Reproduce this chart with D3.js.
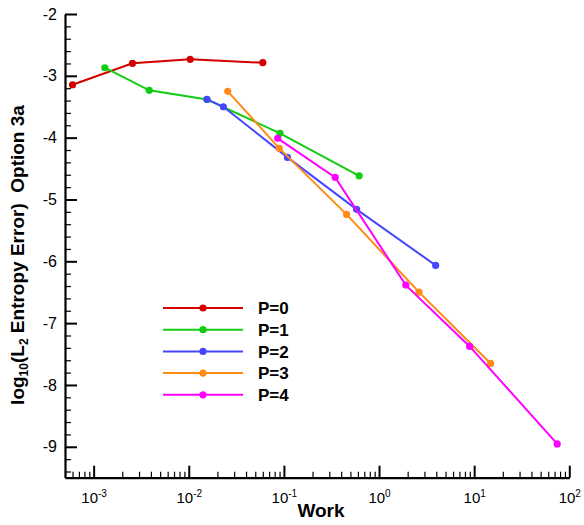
<!DOCTYPE html>
<html>
<head>
<meta charset="utf-8">
<title>Entropy error vs work</title>
<script src="https://d3js.org/d3.v7.min.js"></script>
<style>
  body { margin: 0; background: #fff; }
  text { font-family: "Liberation Sans", Arial, Helvetica, sans-serif; }
</style>
</head>
<body>
<div id="chart"></div>
<script>
// values: x = work, y = log10(L2 entropy error)
var names = ["P=0", "P=1", "P=2", "P=3", "P=4"];
var colors = ["#d40000", "#11cc11", "#4646ff", "#ff8a14", "#ff00ff"];

var work0 = [6.0e-4, 2.56e-3, 1.035e-2, 0.060];
var err0  = [-3.144, -2.798, -2.733, -2.788];

var work1 = [1.31e-3, 3.84e-3, 0.0156, 0.091, 0.618];
var err1  = [-2.869, -3.235, -3.383, -3.930, -4.617];

var work2 = [0.0155, 0.0231, 0.109, 0.581, 3.94];
var err2  = [-3.380, -3.500, -4.319, -5.160, -6.066];

var work3 = [0.0257, 0.0895, 0.456, 2.63, 14.9];
var err3  = [-3.251, -4.173, -5.241, -6.498, -7.652];

var work4 = [0.0861, 0.346, 1.91, 8.97, 74.6];
var err4  = [-4.011, -4.642, -6.385, -7.377, -8.953];

var xMajor = [1e-3, 1e-2, 1e-1, 1, 10, 100];
var xExp = ["-3", "-2", "-1", "0", "1", "2"];
var yMajor = [-9, -8, -7, -6, -5, -4, -3, -2];

var works = [work0, work1, work2, work3, work4];
var errs = [err0, err1, err2, err3, err4];

var W = 584, H = 525;
var svg = d3.select("#chart").append("svg")
    .attr("width", W).attr("height", H);

var x = d3.scaleLog().domain([5e-4, 100]).range([65, 569.3]);
var y = d3.scaleLinear().domain([-9.5, -2]).range([477.7, 14]);

// minor ticks
var xMinor = [];
[1e-4, 1e-3, 1e-2, 1e-1, 1, 10].forEach(function(d) {
  for (var k = 2; k <= 9; k++) {
    var v = d * k;
    if (v >= 5e-4 && v <= 100) xMinor.push(v);
  }
});
var yMinor = [];
for (var i = -47; i <= -10; i++) { if (i % 5 != 0) yMinor.push(i / 5); }

var bottom = 477.7, left = 65;

svg.append("g")
    .attr("transform", "translate(0," + bottom + ")")
    .call(d3.axisBottom(x).tickValues(xMinor).tickSize(-6).tickFormat(""))
    .call(function(g) { g.select(".domain").remove(); g.selectAll("line").attr("stroke-width", 1.2); });

svg.append("g")
    .attr("transform", "translate(" + left + ",0)")
    .call(d3.axisLeft(y).tickValues(yMinor).tickSize(-6).tickFormat(""))
    .call(function(g) { g.select(".domain").remove(); g.selectAll("line").attr("stroke-width", 1.2); });

var xAxis = svg.append("g")
    .attr("transform", "translate(0," + bottom + ")")
    .call(d3.axisBottom(x).tickValues(xMajor).tickSize(-12).tickSizeOuter(0).tickPadding(10).tickFormat(function() { return ""; }));
xAxis.select(".domain").attr("stroke-width", 2.2);
xAxis.selectAll("line").attr("stroke-width", 2);
xAxis.selectAll(".tick text").each(function(d, i) {
  var t = d3.select(this).attr("font-size", 15).attr("fill", "#000").attr("dy", "1.05em");
  t.append("tspan").text("10");
  t.append("tspan").text(xExp[i]).attr("font-size", 10).attr("dy", "-0.65em");
});

var yAxis = svg.append("g")
    .attr("transform", "translate(" + left + ",0)")
    .call(d3.axisLeft(y).tickValues(yMajor).tickSize(-12).tickSizeOuter(0).tickPadding(8).tickFormat(function(d) { return String(d); }));
yAxis.select(".domain").attr("stroke-width", 2.2);
yAxis.selectAll("line").attr("stroke-width", 2);
yAxis.selectAll(".tick text").attr("font-size", 16).attr("fill", "#000");

// series
var line = d3.line().x(function(d) { return x(d[0]); }).y(function(d) { return y(d[1]); });

names.forEach(function(n, i) {
  var pts = works[i].map(function(w, j) { return [w, errs[i][j]]; });
  svg.append("path")
      .attr("d", line(pts))
      .attr("fill", "none")
      .attr("stroke", colors[i])
      .attr("stroke-width", 2);
  svg.selectAll(".pt" + i).data(pts).enter().append("circle")
      .attr("cx", function(d) { return x(d[0]); })
      .attr("cy", function(d) { return y(d[1]); })
      .attr("r", 3.6)
      .attr("fill", colors[i]);
});

// legend
var lg = svg.append("g").attr("transform", "translate(163,308)");
names.forEach(function(n, i) {
  var row = lg.append("g").attr("transform", "translate(0," + (i * 21.7) + ")");
  row.append("line").attr("x1", 0).attr("x2", 80).attr("y1", 0).attr("y2", 0)
      .attr("stroke", colors[i]).attr("stroke-width", 2);
  row.append("circle").attr("cx", 40).attr("cy", 0).attr("r", 3.6).attr("fill", colors[i]);
  row.append("text").attr("x", 95).attr("y", 0).attr("dy", "0.36em")
      .attr("font-size", 17).attr("font-weight", "bold").text(n);
});

// axis titles
svg.append("text")
    .attr("x", 321).attr("y", 517)
    .attr("text-anchor", "middle")
    .attr("font-size", 19).attr("font-weight", "bold")
    .text("Work");

var yt = svg.append("text")
    .attr("transform", "translate(24,255) rotate(-90)")
    .attr("text-anchor", "middle")
    .attr("font-size", 19).attr("font-weight", "bold");
yt.append("tspan").text("log");
yt.append("tspan").text("10").attr("font-size", 12).attr("dy", 4);
yt.append("tspan").text("(L").attr("dy", -4);
yt.append("tspan").text("2").attr("font-size", 12).attr("dy", 4);
yt.append("tspan").text(" Entropy Error)\u00a0\u00a0Option 3a").attr("dy", -4);
</script>
</body>
</html>
